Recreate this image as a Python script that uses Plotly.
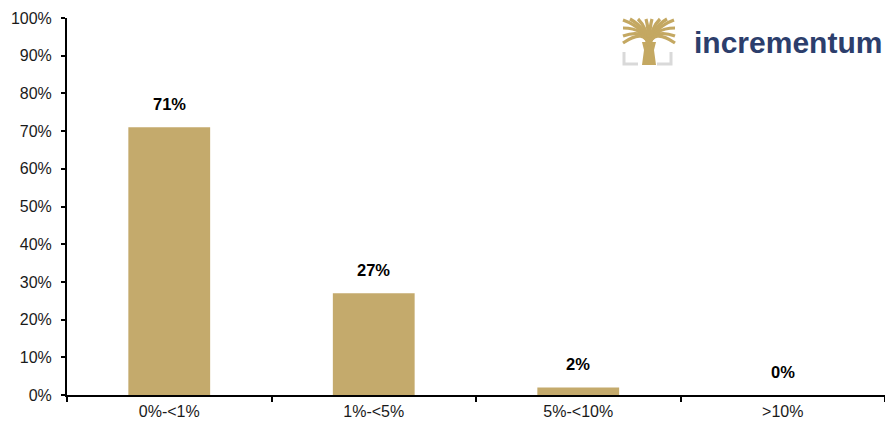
import plotly.graph_objects as go

categories = ["0%-<1%", "1%-<5%", "5%-<10%", ">10%"]
values = [71, 27, 2, 0]
value_labels = ["71%", "27%", "2%", "0%"]
y_ticks = list(range(0, 101, 10))
y_tick_labels = [f"{v}%" for v in y_ticks]

BAR = "#C4AA6C"
FONT = "Liberation Sans, Arial, sans-serif"

fig = go.Figure()
fig.add_trace(go.Bar(x=categories, y=values, marker_color=BAR, width=0.4,
                     marker_line_width=0, hoverinfo="skip"))

for c, v, t in zip(categories, values, value_labels):
    fig.add_annotation(x=c, y=v, text=f"<b>{t}</b>", showarrow=False,
                       yanchor="bottom", yshift=12,
                       font=dict(family=FONT, size=16.5, color="#000000"))

# layout geometry (pixels)
W, H = 885, 421
L, R, T, B = 67, 0, 18, 26
pw, ph = W - L - R, H - T - B

def px(x):
    return (x - L) / pw

def py(y):
    return (H - B - y) / ph

shapes = []
gold = "#C4A862"
# trunk
trunk = (f"M {px(642)},{py(65)} L {px(656)},{py(65)} L {px(654)},{py(50)} "
         f"L {px(656)},{py(42)} L {px(642)},{py(42)} L {px(644)},{py(50)} Z")
shapes.append(dict(type="path", xref="paper", yref="paper", path=trunk,
                   fillcolor=gold, line=dict(width=0)))
ends = [(623, 20), (630, 19), (638, 19), (646, 19), (652, 19), (660, 19), (667, 19),
        (674, 20), (623, 28), (675, 28), (623, 36), (675, 36), (623, 43), (675, 43)]
for ex, ey in ends:
    cx = 649 + (ex - 649) * 0.15
    shapes.append(dict(type="path", xref="paper", yref="paper",
                       path=f"M {px(649)},{py(46)} Q {px(cx)},{py(28)} {px(ex)},{py(ey)}",
                       line=dict(color=gold, width=3.2)))
grey = "#D9D9D9"
shapes.append(dict(type="path", xref="paper", yref="paper",
                   path=f"M {px(624)},{py(52)} L {px(624)},{py(64)} L {px(638)},{py(64)}",
                   line=dict(color=grey, width=3)))
shapes.append(dict(type="path", xref="paper", yref="paper",
                   path=f"M {px(671)},{py(52)} L {px(671)},{py(64)} L {px(657)},{py(64)}",
                   line=dict(color=grey, width=3)))

fig.add_annotation(xref="paper", yref="paper", x=px(692), y=py(42),
                   xanchor="left", yanchor="middle", showarrow=False,
                   text="<b>incrementum</b>",
                   font=dict(family=FONT, size=30, color="#2C3E6C"))

fig.update_layout(
    width=W, height=H,
    margin=dict(l=L, r=R, t=T, b=B, autoexpand=False),
    paper_bgcolor="white", plot_bgcolor="white",
    showlegend=False, shapes=shapes,
    font=dict(family=FONT, size=16, color="#1a1a1a"),
    bargap=0.6,
)
fig.update_xaxes(showline=True, linecolor="black", linewidth=2,
                 ticks="outside", tickson="boundaries", ticklen=5,
                 tickcolor="black", tickwidth=1.5, showgrid=False, automargin=False,
                 tickfont=dict(size=16, color="#1a1a1a"), ticklabelstandoff=1)
fig.update_yaxes(range=[0, 100], tickvals=y_ticks, ticktext=y_tick_labels,
                 showline=True, linecolor="black", linewidth=2,
                 ticks="outside", ticklen=4, tickcolor="black", tickwidth=1.5,
                 showgrid=False, zeroline=False, automargin=False,
                 tickfont=dict(size=16, color="#1a1a1a"), ticklabelstandoff=6)

fig.write_html("out.html")
